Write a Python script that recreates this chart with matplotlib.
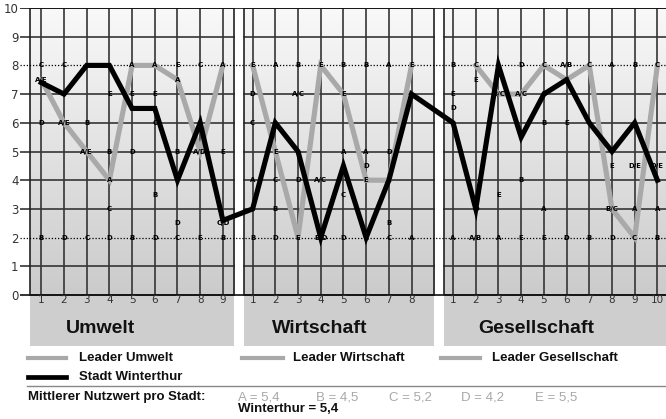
"""Nutzwert-Profil: Stadt Winterthur gegen die Leader je Themenbereich."""
import numpy as np
import matplotlib
matplotlib.use("Agg")
import matplotlib.pyplot as plt
from matplotlib.colors import LinearSegmentedColormap
from matplotlib.lines import Line2D
from matplotlib.patches import Rectangle

# ---- data ------------------------------------------------------------------
CITIES = ["A", "B", "C", "D", "E"]
PANEL_NAMES = ["Umwelt", "Wirtschaft", "Gesellschaft"]
LEADERS = ["A", "E", "C"]          # leader city per panel

# Umwelt, 9 criteria
umwelt_A = [7.5, 6, 5, 4, 8, 8, 7.5, 5, 8]
umwelt_B = [2, None, 6, 5, 2, 3.5, 5, None, 2]
umwelt_C = [8, 8, 2, 3, None, 6, 2, 8, 2.5]
umwelt_D = [6, 2, None, 2, 5, 2, 2.5, 5, 2.5]
umwelt_E = [7.5, 6, 5, 7, 7, 7, 8, 2, 5]
umwelt_winterthur = [7.4, 7, 8, 8, 6.5, 6.5, 4, 6, 2.6]

# Wirtschaft, 8 criteria
wirtschaft_A = [4, 8, 7, 4, 5, 5, 8, 2]
wirtschaft_B = [2, 3, 8, 2, 8, 8, 2.5, None]
wirtschaft_C = [6, 4, 7, 4, 3.5, 2, 2, None]
wirtschaft_D = [7, 2, 4, 2, 2, 4.5, 5, None]
wirtschaft_E = [8, 5, 2, 8, 7, 4, 4, 8]
wirtschaft_winterthur = [3, 6, 5, 2, 4.5, 2, 4, 7]

# Gesellschaft, 10 criteria
gesellschaft_A = [2, 2, 2, 7, 3, 8, None, 8, 3, 3]
gesellschaft_B = [8, 2, 7, 4, 6, 8, 2, 3, 8, 2]
gesellschaft_C = [None, 8, 7, 7, 8, 7.5, 8, 3, 2, 8]
gesellschaft_D = [6.5, 3, None, 8, 7, 2, None, 2, 4.5, 4.5]
gesellschaft_E = [7, 7.5, 3.5, 2, 2, 6, None, 4.5, 4.5, 4.5]
gesellschaft_winterthur = [6, 3, 8, 5.5, 7, 7.5, 6, 5, 6, 4]

MEAN_CITIES = ["A", "B", "C", "D", "E"]
MEAN_VALUES = [5.4, 4.5, 5.2, 4.2, 5.5]
WINTERTHUR_MEAN = 5.4

panels = [
    {"A": umwelt_A, "B": umwelt_B, "C": umwelt_C, "D": umwelt_D, "E": umwelt_E,
     "W": umwelt_winterthur},
    {"A": wirtschaft_A, "B": wirtschaft_B, "C": wirtschaft_C, "D": wirtschaft_D,
     "E": wirtschaft_E, "W": wirtschaft_winterthur},
    {"A": gesellschaft_A, "B": gesellschaft_B, "C": gesellschaft_C,
     "D": gesellschaft_D, "E": gesellschaft_E, "W": gesellschaft_winterthur},
]

# ---- layout ----------------------------------------------------------------
W_PX, H_PX = 666, 419
OFFSETS = [0.0, 9.31, 18.14]                  # x shift of each panel
PAD_L = [0.5, 0.37, 0.38]                     # panel box left of x=1
PAD_R = [0.5, 1.0, 0.6]                       # panel box right of last x
X_MIN, X_MAX = 0.062, 28.52
Y_MIN, Y_MAX = -1.777, 10.0

GRID = "#353535"
LEADER = "#a9a9a9"
BAND = "#cecece"
BOLD_FONT = ["Liberation Sans", "DejaVu Sans"]

fig = plt.figure(figsize=(W_PX / 100, H_PX / 100), dpi=100)
ax = fig.add_axes([20 / W_PX, (H_PX - 346) / H_PX, 646 / W_PX, 338 / H_PX])
ax.set_xlim(X_MIN, X_MAX)
ax.set_ylim(Y_MIN, Y_MAX)
for s in ax.spines.values():
    s.set_visible(False)
ax.set_xticks([])
ax.set_yticks(range(11))
ax.tick_params(axis="y", length=0, pad=1, labelsize=8.5, labelcolor="#333333")

grad = LinearSegmentedColormap.from_list("bg", ["#cbcbcb", "#e2e2e2", "#f9f9f9"])
gvals = np.linspace(0, 1, 256).reshape(-1, 1)

win_x, win_y = [], []
for p, data in enumerate(panels):
    off = OFFSETS[p]
    n = len(data["W"])
    xs = off + np.arange(1, n + 1)
    x0, x1 = off + 1 - PAD_L[p], off + n + PAD_R[p]

    # background: gradient plot area + flat label band
    ax.imshow(gvals, cmap=grad, extent=(x0, x1, 0, 10), origin="lower",
              aspect="auto", zorder=0)
    ax.add_patch(Rectangle((x0, Y_MIN), x1 - x0, -Y_MIN, color=BAND, lw=0, zorder=0))

    # grid
    gx0 = X_MIN if p == 0 else x0
    for lvl in [1, 3, 4, 5, 6, 7, 9]:
        ax.plot([gx0, x1], [lvl, lvl], color=GRID, lw=1.2, zorder=1)
    ax.vlines(xs, 0, 10, color=GRID, lw=1.2, zorder=1)
    ax.add_patch(Rectangle((x0, 0), x1 - x0, 10, fill=False, ec="#222222",
                           lw=1.2, zorder=1))

    # leader line
    lead = np.array([np.nan if v is None else v for v in data[LEADERS[p]]], float)
    ax.plot(xs, lead, color=LEADER, lw=3.7, solid_joinstyle="miter", zorder=2)

    # city letters, merged when equal
    for i in range(n):
        groups = {}
        for c in CITIES:
            v = data[c][i]
            if v is not None:
                groups.setdefault(v, []).append(c)
        for v, cs in groups.items():
            ax.text(xs[i], v, "/".join(cs), fontsize=5, fontweight="bold",
                    ha="center", va="center", color="#000000", zorder=3)

    # x tick labels + panel name
    for i, x in enumerate(xs):
        ax.text(x, -0.17, str(i + 1), fontsize=7.5, ha="center", va="center",
                color="#333333")
    ax.text(off + [2.09, 1.84, 2.1][p], -1.18, PANEL_NAMES[p], fontsize=14,
            fontweight="bold", family=BOLD_FONT, ha="left", va="center",
            color="#111111")

    win_x.extend(xs)
    win_y.extend(data["W"])

# axis lines across all panels
ax.plot([X_MIN, X_MAX], [0, 0], color="#111111", lw=1.2, zorder=1)
ax.plot([X_MIN, X_MAX], [10, 10], color="#111111", lw=1.2, zorder=1)
for lvl in [2, 8]:
    ax.plot([X_MIN, X_MAX], [lvl, lvl], color="#000000", lw=0.9, ls=(0, (1, 1.5)),
            zorder=1)

ax.plot(win_x, win_y, color="black", lw=3.7, solid_joinstyle="miter", zorder=4)


# ---- legend & footnote (figure pixels) -------------------------------------
def fx(px):
    return px / W_PX


def fy(py):
    return 1 - py / H_PX


legend = [(27.6, 65.8, 78.6, 358, LEADER, 3.0, "Leader Umwelt"),
          (242, 282.5, 293, 358, LEADER, 3.0, "Leader Wirtschaft"),
          (441, 480, 492, 358, LEADER, 3.0, "Leader Gesellschaft"),
          (27.6, 65.8, 78.6, 377, "black", 3.4, "Stadt Winterthur")]
for a, b, tx, ty, col, lw, lab in legend:
    fig.add_artist(Line2D([fx(a), fx(b)], [fy(ty), fy(ty)], color=col, lw=lw))
    fig.text(fx(tx), fy(ty), lab, fontsize=9.5, fontweight="bold", family=BOLD_FONT,
             ha="left", va="center", color="#111111")

fig.add_artist(Line2D([fx(27), fx(666)], [fy(386), fy(386)], color="#888888", lw=1.0))
fig.text(fx(27.6), fy(397), "Mittlerer Nutzwert pro Stadt:", fontsize=9.5,
         fontweight="bold", family=BOLD_FONT, ha="left", va="center", color="#111111")
for name, val, px in zip(MEAN_CITIES, MEAN_VALUES, [238, 316.5, 388.7, 461, 535]):
    fig.text(fx(px), fy(397), f"{name} = {val:.1f}".replace(".", ","), fontsize=9.5,
             family=BOLD_FONT, ha="left", va="center", color="#a8a8a8")
fig.text(fx(238), fy(409), f"Winterthur = {WINTERTHUR_MEAN:.1f}".replace(".", ","),
         fontsize=9.5, fontweight="bold", family=BOLD_FONT, ha="left", va="center",
         color="#111111")

fig.savefig("out.png", dpi=100)
